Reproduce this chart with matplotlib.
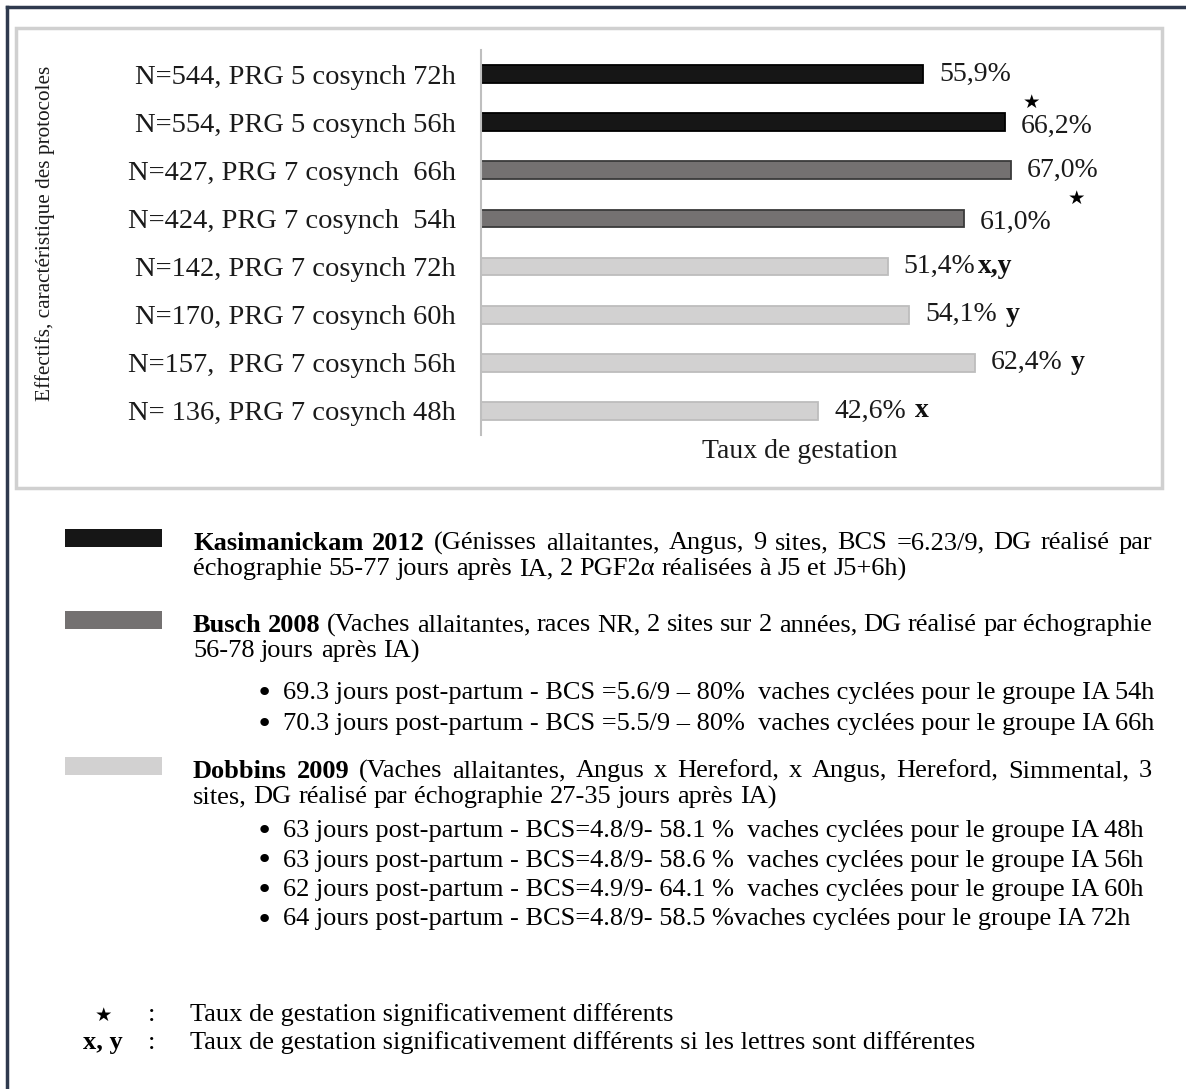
import numpy as np
import matplotlib
matplotlib.use("Agg")
import matplotlib.pyplot as plt
from matplotlib.patches import Rectangle
from matplotlib.lines import Line2D

# ---------------- data ----------------
labels = ["N=544, PRG 5 cosynch 72h", "N=554, PRG 5 cosynch 56h",
          "N=427, PRG 7 cosynch  66h", "N=424, PRG 7 cosynch  54h",
          "N=142, PRG 7 cosynch 72h", "N=170, PRG 7 cosynch 60h",
          "N=157,  PRG 7 cosynch 56h", "N= 136, PRG 7 cosynch 48h"]
values = [55.9, 66.2, 67.0, 61.0, 51.4, 54.1, 62.4, 42.6]
study = [0, 0, 1, 1, 2, 2, 2, 2]
stars = [False, True, False, True, False, False, False, False]
letters = ["", "", "", "", "x,y", " y", " y", " x"]
study_names = ["Kasimanickam 2012", "Busch 2008", "Dobbins 2009"]
xlabel = "Taux de gestation"
ylabel = "Effectifs, caractéristique des protocoles"

fill_colors = ["#161616", "#747171", "#d2d1d1"]
edge_colors = ["#000000", "#3a3a3a", "#bdbdbd"]

kas_lines = ["Kasimanickam 2012 (Génisses allaitantes, Angus, 9 sites, BCS =6.23/9, DG réalisé par",
             "échographie 55-77 jours après IA, 2 PGF2α réalisées à J5 et J5+6h)"]
busch_lines = ["Busch 2008 (Vaches allaitantes, races NR, 2 sites sur 2 années, DG réalisé par échographie",
               "56-78 jours après IA)"]
busch_bullets = ["69.3 jours post-partum - BCS =5.6/9 – 80%  vaches cyclées pour le groupe IA 54h",
                 "70.3 jours post-partum - BCS =5.5/9 – 80%  vaches cyclées pour le groupe IA 66h"]
dob_lines = ["Dobbins 2009 (Vaches allaitantes, Angus x Hereford, x Angus, Hereford, Simmental, 3",
             "sites, DG réalisé par échographie 27-35 jours après IA)"]
dob_bullets = ["63 jours post-partum - BCS=4.8/9- 58.1 %  vaches cyclées pour le groupe IA 48h",
               "63 jours post-partum - BCS=4.8/9- 58.6 %  vaches cyclées pour le groupe IA 56h",
               "62 jours post-partum - BCS=4.9/9- 64.1 %  vaches cyclées pour le groupe IA 60h",
               "64 jours post-partum - BCS=4.8/9- 58.5 %vaches cyclées pour le groupe IA 72h"]
foot_star = "Taux de gestation significativement différents"
foot_xy = "Taux de gestation significativement différents si les lettres sont différentes"

# ---------------- figure ----------------
W, H = 1186, 1089
plt.rcParams['font.family'] = ['Liberation Serif', 'DejaVu Sans']
fig = plt.figure(figsize=(W / 100, H / 100), dpi=100)
fig.patch.set_facecolor('white')
R = fig.canvas.get_renderer()

def fx(x):
    return x / W

def fy(y):
    return 1 - y / H

# outer frame (top and left)
fig.add_artist(Line2D([fx(7), fx(W)], [fy(7), fy(7)], color='#2f3a4e', lw=2.5))
fig.add_artist(Line2D([fx(7), fx(7)], [fy(7), fy(H)], color='#2f3a4e', lw=2.5))
# inner chart box
fig.add_artist(Rectangle((fx(16), fy(488)), fx(1162) - fx(16), fy(28) - fy(488),
                         fill=False, edgecolor='#d0d0d0', lw=2.5))

# ---------------- bar chart ----------------
TS = 20.5
ax = fig.add_axes([fx(481), fy(435), fx(1114) - fx(481), fy(50) - fy(435)])
pos = np.arange(len(values))[::-1]
ax.barh(pos, values, height=0.37,
        color=[fill_colors[s] for s in study],
        edgecolor=[edge_colors[s] for s in study], linewidth=1.3)
ax.set_xlim(0, 80)
ax.set_ylim(-0.5, len(values) - 0.5)
ax.set_xticks([])
ax.set_yticks(pos)
ax.set_yticklabels(labels, fontsize=TS, color='#1a1a1a')
ax.tick_params(axis='y', length=0, pad=18)
for s in ['top', 'right', 'bottom']:
    ax.spines[s].set_visible(False)
ax.spines['left'].set_color('#bfbfbf')
ax.spines['left'].set_linewidth(1.5)
ax.patch.set_alpha(0)

for p, v, st, let in zip(pos, values, stars, letters):
    dy = -4 if st else 0
    t = ax.annotate(f"{v:.1f}%".replace('.', ','), xy=(v, p), xytext=(16, dy),
                    textcoords='offset pixels', va='center', ha='left',
                    fontsize=20, color='#1a1a1a')
    bar_px = ax.transData.transform((v, p))[0]
    if let:
        bb = t.get_window_extent(R)
        ax.annotate(let, xy=(v, p), xytext=(bb.x1 - bar_px + 2, dy),
                    textcoords='offset pixels', va='center', ha='left',
                    fontsize=20, fontweight='bold', color='#111111')
    if st:
        bb = t.get_window_extent(R)
        ax.annotate('★', xy=(v, p), xytext=(bb.x0 - bar_px + (2 if v > 62 else 88), 20),
                    textcoords='offset pixels', va='center', ha='left',
                    fontsize=14, color='black', family=['DejaVu Sans'])

fig.text(fx(45), fy(233), ylabel, rotation=90, ha='center', va='center',
         fontsize=15.3, color='#1a1a1a')
fig.text(fx(800), fy(452), xlabel, ha='center', va='center', fontsize=20, color='#1a1a1a')

# ---------------- legend text ----------------
LS = 19
X0, X1 = 193, 1152
BX, TX = 256, 283

def justify(line, bold_words, y, x0=X0, x1=X1, justified=True):
    words = line.split(' ')
    arts, widths = [], []
    for i, w in enumerate(words):
        wt = 'bold' if i < bold_words else 'normal'
        t = fig.text(0, fy(y), w, fontsize=LS, fontweight=wt, va='center', ha='left', color='black')
        arts.append(t)
        widths.append(t.get_window_extent(R).width)
    t1 = fig.text(0, 0, 'a a', fontsize=LS)
    t2 = fig.text(0, 0, 'aa', fontsize=LS)
    sp = t1.get_window_extent(R).width - t2.get_window_extent(R).width
    t1.remove()
    t2.remove()
    if justified and len(words) > 1:
        gap = (x1 - x0 - sum(widths)) / (len(words) - 1)
    else:
        gap = sp
    x = x0
    for t, wd in zip(arts, widths):
        t.set_x(fx(x))
        x += wd + gap

def swatch(color, y):
    fig.add_artist(Rectangle((fx(65), fy(y + 9)), fx(162) - fx(65), fy(y - 9) - fy(y + 9),
                             facecolor=color, edgecolor='none'))

def bullet(line, y):
    fig.text(fx(BX), fy(y), '•', fontsize=LS + 2, va='center', ha='left', color='black',
             family=['DejaVu Sans'])
    fig.text(fx(TX), fy(y), line, fontsize=LS, va='center', ha='left', color='black')

swatch(fill_colors[0], 538)
justify(kas_lines[0], 2, 543)
justify(kas_lines[1], 0, 569, justified=False)

swatch(fill_colors[1], 620)
justify(busch_lines[0], 2, 625)
justify(busch_lines[1], 0, 651, justified=False)
for i, b in enumerate(busch_bullets):
    bullet(b, 693 + 31 * i)

swatch(fill_colors[2], 766)
justify(dob_lines[0], 2, 771)
justify(dob_lines[1], 0, 797, justified=False)
for i, b in enumerate(dob_bullets):
    bullet(b, 831 + 29.5 * i)

fig.text(fx(103), fy(1015), '★', fontsize=14, ha='center', va='center', family=['DejaVu Sans'])
fig.text(fx(152), fy(1015), ':', fontsize=LS, ha='center', va='center')
fig.text(fx(190), fy(1015), foot_star, fontsize=LS, ha='left', va='center')
fig.text(fx(103), fy(1043), 'x, y', fontsize=LS, fontweight='bold', ha='center', va='center')
fig.text(fx(152), fy(1043), ':', fontsize=LS, ha='center', va='center')
fig.text(fx(190), fy(1043), foot_xy, fontsize=LS, ha='left', va='center')

fig.savefig('out.png', dpi=100, facecolor='white')
